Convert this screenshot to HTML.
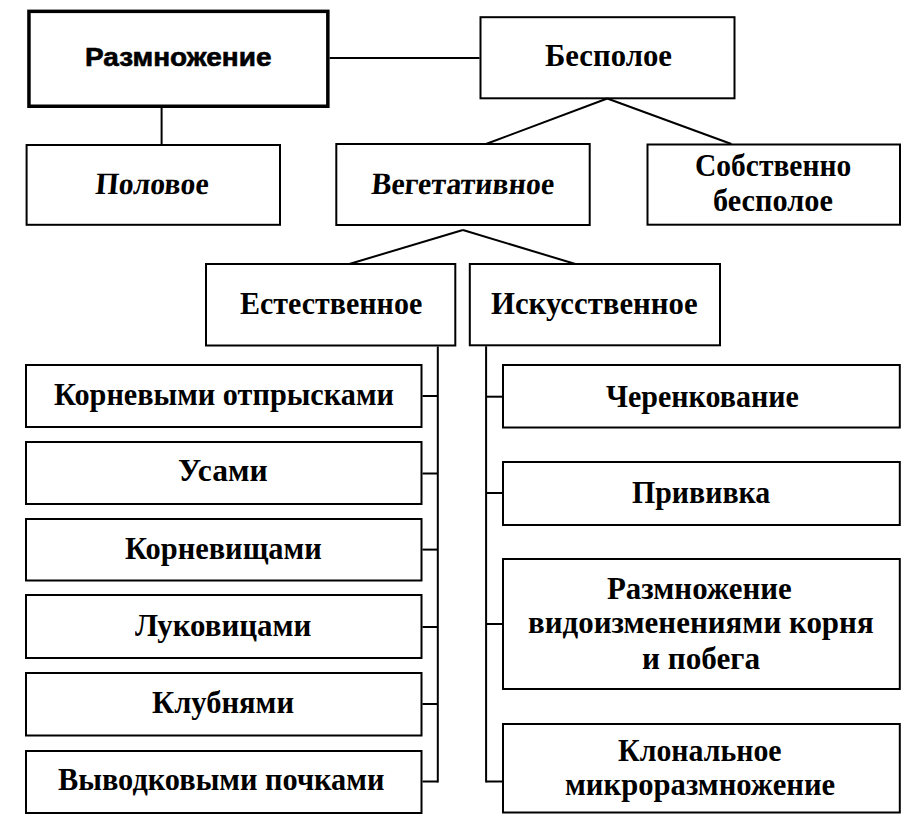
<!DOCTYPE html>
<html><head><meta charset="utf-8"><style>
html,body{margin:0;padding:0;background:#fff;}
body{width:910px;height:829px;position:relative;overflow:hidden;}
svg{position:absolute;left:0;top:0;}
.t{position:absolute;width:0;height:34px;font-family:"Liberation Serif",serif;font-weight:bold;font-size:32px;line-height:34px;color:#000;white-space:nowrap;}
.t span{position:absolute;left:0;top:0;transform-origin:0 0;}
.it{font-size:31px;}
.sans{font-family:"Liberation Sans",sans-serif;font-size:26px;-webkit-text-stroke:0.6px #000;}
</style></head><body>
<svg width="910" height="829" viewBox="0 0 910 829">
<rect x="28.95" y="11.35" width="298.90" height="94.90" fill="none" stroke="#000" stroke-width="3.5"/>
<rect x="26.60" y="145.00" width="253.40" height="79.80" fill="none" stroke="#000" stroke-width="2"/>
<rect x="480.50" y="17.20" width="254.00" height="81.10" fill="none" stroke="#000" stroke-width="2"/>
<rect x="336.30" y="144.00" width="253.40" height="81.00" fill="none" stroke="#000" stroke-width="2"/>
<rect x="647.50" y="144.50" width="252.50" height="80.20" fill="none" stroke="#000" stroke-width="2"/>
<rect x="206.00" y="264.00" width="249.30" height="81.50" fill="none" stroke="#000" stroke-width="2"/>
<rect x="469.80" y="264.00" width="250.20" height="81.30" fill="none" stroke="#000" stroke-width="2"/>
<rect x="26.00" y="365.00" width="395.50" height="62.00" fill="none" stroke="#000" stroke-width="2"/>
<rect x="26.00" y="442.00" width="395.50" height="62.00" fill="none" stroke="#000" stroke-width="2"/>
<rect x="26.00" y="519.00" width="395.50" height="61.50" fill="none" stroke="#000" stroke-width="2"/>
<rect x="26.00" y="595.00" width="395.50" height="63.00" fill="none" stroke="#000" stroke-width="2"/>
<rect x="26.00" y="673.00" width="395.50" height="62.50" fill="none" stroke="#000" stroke-width="2"/>
<rect x="26.00" y="751.00" width="395.50" height="62.00" fill="none" stroke="#000" stroke-width="2"/>
<rect x="503.00" y="365.00" width="396.80" height="62.50" fill="none" stroke="#000" stroke-width="2"/>
<rect x="503.00" y="462.00" width="396.80" height="63.00" fill="none" stroke="#000" stroke-width="2"/>
<rect x="503.00" y="559.00" width="396.80" height="130.00" fill="none" stroke="#000" stroke-width="2"/>
<rect x="503.00" y="724.00" width="396.80" height="88.50" fill="none" stroke="#000" stroke-width="2"/>
<line x1="329.6" y1="58" x2="479.5" y2="58" stroke="#000" stroke-width="2"/>
<line x1="161.6" y1="108" x2="161.6" y2="144" stroke="#000" stroke-width="2"/>
<line x1="607.3" y1="98.5" x2="486" y2="144" stroke="#000" stroke-width="2"/>
<line x1="607.3" y1="98.5" x2="731.4" y2="144" stroke="#000" stroke-width="2"/>
<line x1="462.9" y1="230" x2="349.3" y2="264" stroke="#000" stroke-width="2"/>
<line x1="462.9" y1="230" x2="575.4" y2="264" stroke="#000" stroke-width="2"/>
<line x1="437.8" y1="346.5" x2="437.8" y2="782.5" stroke="#000" stroke-width="2"/>
<line x1="486.1" y1="346.3" x2="486.1" y2="782.5" stroke="#000" stroke-width="2"/>
<line x1="422.5" y1="396" x2="437.8" y2="396" stroke="#000" stroke-width="2"/>
<line x1="422.5" y1="473.5" x2="437.8" y2="473.5" stroke="#000" stroke-width="2"/>
<line x1="422.5" y1="549.6" x2="437.8" y2="549.6" stroke="#000" stroke-width="2"/>
<line x1="422.5" y1="627" x2="437.8" y2="627" stroke="#000" stroke-width="2"/>
<line x1="422.5" y1="704" x2="437.8" y2="704" stroke="#000" stroke-width="2"/>
<line x1="422.5" y1="781.5" x2="437.8" y2="781.5" stroke="#000" stroke-width="2"/>
<line x1="486.1" y1="396.7" x2="502" y2="396.7" stroke="#000" stroke-width="2"/>
<line x1="486.1" y1="493" x2="502" y2="493" stroke="#000" stroke-width="2"/>
<line x1="486.1" y1="624" x2="502" y2="624" stroke="#000" stroke-width="2"/>
<line x1="486.1" y1="781.5" x2="502" y2="781.5" stroke="#000" stroke-width="2"/>
</svg>
<div class="t sans" style="left:84.61px;top:40.00px"><span style="transform:scaleX(1.0765)">Размножение</span></div>
<div class="t it" style="left:97.45px;top:166.80px"><span style="transform:scaleX(0.9677) skewX(-5deg)">Половое</span></div>
<div class="t " style="left:544.98px;top:38.40px"><span style="transform:scaleX(0.9608)">Бесполое</span></div>
<div class="t it" style="left:373.05px;top:166.50px"><span style="transform:scaleX(0.9670) skewX(-5deg)">Вегетативное</span></div>
<div class="t " style="left:695.24px;top:148.40px"><span style="transform:scaleX(0.9218)">Собственно</span></div>
<div class="t " style="left:713.20px;top:182.80px"><span style="transform:scaleX(0.9476)">бесполое</span></div>
<div class="t " style="left:239.61px;top:285.70px"><span style="transform:scaleX(0.9376)">Естественное</span></div>
<div class="t " style="left:491.19px;top:285.50px"><span style="transform:scaleX(0.9618)">Искусственное</span></div>
<div class="t " style="left:53.60px;top:376.80px"><span style="transform:scaleX(0.9458)">Корневыми отпрысками</span></div>
<div class="t " style="left:177.77px;top:453.30px"><span style="transform:scaleX(0.9859)">Усами</span></div>
<div class="t " style="left:124.60px;top:531.30px"><span style="transform:scaleX(0.9505)">Корневищами</span></div>
<div class="t " style="left:135.00px;top:607.70px"><span style="transform:scaleX(0.9654)">Луковицами</span></div>
<div class="t " style="left:151.79px;top:684.90px"><span style="transform:scaleX(0.9548)">Клубнями</span></div>
<div class="t " style="left:58.40px;top:762.40px"><span style="transform:scaleX(0.9483)">Выводковыми почками</span></div>
<div class="t " style="left:605.61px;top:378.60px"><span style="transform:scaleX(0.9373)">Черенкование</span></div>
<div class="t " style="left:631.62px;top:475.00px"><span style="transform:scaleX(0.9336)">Прививка</span></div>
<div class="t " style="left:606.97px;top:570.60px"><span style="transform:scaleX(0.9653)">Размножение</span></div>
<div class="t " style="left:527.58px;top:604.60px"><span style="transform:scaleX(0.9672)">видоизменениями корня</span></div>
<div class="t " style="left:641.76px;top:640.60px"><span style="transform:scaleX(0.9742)">и побега</span></div>
<div class="t " style="left:618.03px;top:732.80px"><span style="transform:scaleX(0.9327)">Клональное</span></div>
<div class="t " style="left:564.99px;top:766.90px"><span style="transform:scaleX(0.9575)">микроразмножение</span></div>
</body></html>
